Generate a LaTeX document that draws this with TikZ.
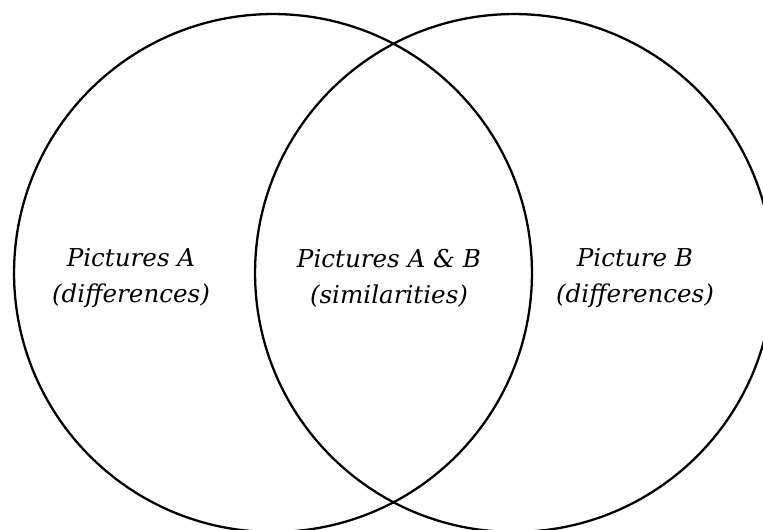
\documentclass[tikz,border=0pt]{standalone}
\usepackage{fontspec}
\setmainfont{DejaVu Serif}
\tikzset{
  setcircle/.style={draw, circle, line width=1.3pt, minimum size=10.36cm, inner sep=0pt},
  setlabel/.style={align=center, font=\fontsize{14}{20.5}\selectfont\itshape}
}
\begin{document}
\begin{tikzpicture}[x=0.02cm, y=0.02cm]
	\useasboundingbox (0,0) rectangle (763,529);
	\node (circlea) [setcircle] at (273,256) {};
	\node (circleb) [setcircle] at (514,256) {};
	
	\node (labela) [setlabel] at (131,251) {Pictures A\\(differences)};
	\node (labelab) [setlabel] at (389,251) {Pictures A \& B\\(similarities)};
	\node (labelb) [setlabel] at (635,251) {Picture B\\(differences)};
\end{tikzpicture}
\end{document}
